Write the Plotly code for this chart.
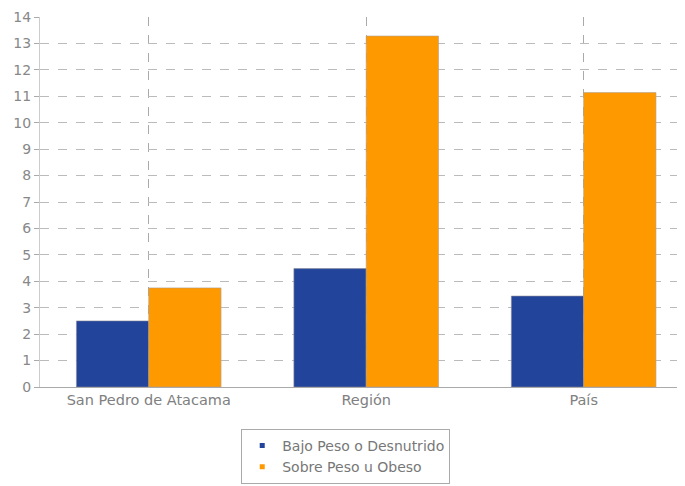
import plotly.graph_objects as go

categories = ["San Pedro de Atacama", "Región", "País"]
bajo_peso = [2.5, 4.48, 3.44]
sobre_peso = [3.75, 13.28, 11.14]
series_names = ["Bajo Peso o Desnutrido", "Sobre Peso u Obeso"]
colors = ["#22449A", "#FF9900"]
y_ticks = list(range(0, 15))

fig = go.Figure()
fig.add_trace(go.Bar(x=categories, y=bajo_peso, name=series_names[0], showlegend=False,
                     marker=dict(color=colors[0], line=dict(color="#8a8a9a", width=0.6))))
fig.add_trace(go.Bar(x=categories, y=sobre_peso, name=series_names[1], showlegend=False,
                     marker=dict(color=colors[1], line=dict(color="#b0a090", width=0.6))))
for name, c in zip(series_names, colors):
    fig.add_trace(go.Scatter(x=[None], y=[None], mode="markers", name=name,
                             marker=dict(symbol="square", size=5, color=c)))

fig.update_layout(
    width=677, height=478,
    margin=dict(l=32, r=0, t=9, b=99),
    paper_bgcolor="white", plot_bgcolor="white",
    barmode="group", bargap=0.335, bargroupgap=0,
    font=dict(family="DejaVu Sans", size=14, color="#777777"),
    showlegend=True,
    legend=dict(orientation="v", x=0.474, xanchor="center", y=-0.262, yanchor="bottom",
                bordercolor="#aaaaaa", borderwidth=1, bgcolor="white",
                font=dict(size=14, color="#777777"), traceorder="normal",
                itemwidth=30, tracegroupgap=0),
)
fig.update_xaxes(
    range=[-0.5, 2.466], showline=True, linecolor="#aaaaaa", linewidth=1,
    showgrid=True, gridcolor="#aaaaaa", griddash="dash", gridwidth=1,
    ticks="", tickfont=dict(size=14.5, color="#808080"), automargin=False,
)
fig.update_yaxes(
    range=[0, 14], tickvals=y_ticks, showline=True, linecolor="#cccccc", linewidth=1,
    showgrid=True, gridcolor="#bbbbbb", griddash="dash", gridwidth=1,
    ticks="outside", ticklen=5, tickcolor="#aaaaaa",
    tickfont=dict(size=14, color="#888888"), zeroline=False, automargin=False,
)

fig.write_html("out.html")
